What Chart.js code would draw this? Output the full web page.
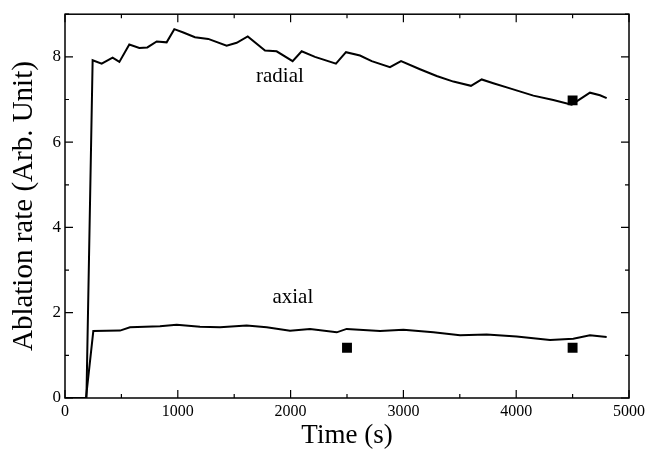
<!DOCTYPE html>
<html>
<head>
<meta charset="utf-8">
<script src="https://cdn.jsdelivr.net/npm/chart.js@4"></script>
<style>
    html, body { margin: 0; padding: 0; background: #fff; }
    #grafico { width: 662px; height: 449px; }
</style>
</head>
<body>
<div id="grafico"><canvas id="canvasAblacao"></canvas></div>
<script>
// dados
var radialTime = [0, 190, 245, 325, 422, 482, 570, 659, 730, 813, 901, 969, 1049, 1152, 1270, 1433, 1522, 1620, 1773, 1876, 2018, 2098, 2216, 2402, 2491, 2615, 2719, 2881, 2979, 3147, 3295, 3443, 3599, 3694, 3797, 3945, 4152, 4329, 4492, 4566, 4654, 4743, 4802];
var radialRate = [0, 0, 7.92, 7.84, 7.98, 7.88, 8.29, 8.21, 8.22, 8.36, 8.34, 8.65, 8.57, 8.46, 8.42, 8.26, 8.33, 8.48, 8.15, 8.13, 7.90, 8.13, 8.00, 7.84, 8.11, 8.03, 7.90, 7.76, 7.90, 7.71, 7.55, 7.42, 7.32, 7.47, 7.38, 7.26, 7.09, 6.99, 6.88, 7.01, 7.16, 7.10, 7.03];

var axialTime = [0, 186, 251, 488, 576, 842, 990, 1197, 1374, 1610, 1788, 1995, 2172, 2409, 2497, 2793, 3000, 3266, 3502, 3738, 4004, 4300, 4506, 4654, 4802];
var axialRate = [0, 0, 1.57, 1.58, 1.66, 1.68, 1.72, 1.67, 1.66, 1.70, 1.66, 1.58, 1.62, 1.54, 1.62, 1.57, 1.60, 1.54, 1.47, 1.49, 1.44, 1.36, 1.39, 1.47, 1.43];

var expTime = [4500, 2500, 4500];
var expRate = [6.98, 1.18, 1.18];

var xTicks = [0, 1000, 2000, 3000, 4000, 5000];
var yTicks = [0, 2, 4, 6, 8];

var fonte = "'Liberation Serif', 'DejaVu Serif', serif";

function pares(xs, ys) {
    var out = [];
    for (var i = 0; i < xs.length; i++) out.push({ x: xs[i], y: ys[i] });
    return out;
}

// moldura e marcas para dentro (como no original)
var pluginMoldura = {
    id: "moldura",
    afterDraw: function (chart) {
        var ctx = chart.ctx;
        var a = chart.chartArea;
        var sx = chart.scales.x, sy = chart.scales.y;
        ctx.save();
        ctx.strokeStyle = "#000";
        ctx.lineWidth = 1.5;
        ctx.strokeRect(a.left, a.top, a.right - a.left, a.bottom - a.top);
        ctx.lineWidth = 1.2;
        ctx.beginPath();
        for (var v = 0; v <= 5000; v += 500) {
            var px = sx.getPixelForValue(v);
            var len = v % 1000 === 0 ? 8 : 4;
            ctx.moveTo(px, a.bottom); ctx.lineTo(px, a.bottom - len);
            ctx.moveTo(px, a.top); ctx.lineTo(px, a.top + len);
        }
        for (var w = 0; w <= 9; w += 1) {
            var py = sy.getPixelForValue(w);
            var l2 = w % 2 === 0 ? 8 : 4;
            ctx.moveTo(a.left, py); ctx.lineTo(a.left + l2, py);
            ctx.moveTo(a.right, py); ctx.lineTo(a.right - l2, py);
        }
        ctx.stroke();

        // rótulos das curvas
        ctx.fillStyle = "#000";
        ctx.font = "21px " + fonte;
        ctx.textAlign = "center";
        ctx.textBaseline = "middle";
        ctx.fillText("radial", sx.getPixelForValue(1905), sy.getPixelForValue(7.55));
        ctx.fillText("axial", sx.getPixelForValue(2020), sy.getPixelForValue(2.35));
        ctx.restore();
    }
};

function plotarAblacao() {
    var ctx = canvasAblacao.getContext("2d");

    new Chart(ctx, {
        type: "scatter",
        data: {
            datasets: [
                {
                    label: "radial",
                    data: pares(radialTime, radialRate),
                    showLine: true,
                    borderColor: "#000",
                    borderWidth: 2,
                    pointRadius: 0,
                    tension: 0
                },
                {
                    label: "axial",
                    data: pares(axialTime, axialRate),
                    showLine: true,
                    borderColor: "#000",
                    borderWidth: 2,
                    pointRadius: 0,
                    tension: 0
                },
                {
                    label: "exp",
                    data: pares(expTime, expRate),
                    showLine: false,
                    pointStyle: "rect",
                    pointRadius: 7,
                    backgroundColor: "#000",
                    borderColor: "#000",
                    borderWidth: 0
                }
            ]
        },
        options: {
            responsive: true,
            maintainAspectRatio: false,
            animation: false,
            layout: { padding: { top: 11, right: 33, left: 0, bottom: 0 } },
            scales: {
                x: {
                    type: "linear",
                    min: 0,
                    max: 5000,
                    afterBuildTicks: function (s) { s.ticks = xTicks.map(function (v) { return { value: v }; }); },
                    afterFit: function (s) { s.height = 51; },
                    grid: { display: false, drawTicks: false },
                    border: { display: false },
                    ticks: {
                        color: "#000",
                        font: { family: fonte, size: 16 },
                        padding: 4,
                        maxRotation: 0,
                        callback: function (v) { return String(v); }
                    },
                    title: { display: true, text: "Time (s)", color: "#000", font: { family: fonte, size: 27, lineHeight: 1.0 }, padding: { top: 0, bottom: 0 } }
                },
                y: {
                    min: 0,
                    max: 9,
                    afterBuildTicks: function (s) { s.ticks = yTicks.map(function (v) { return { value: v }; }); },
                    afterFit: function (s) { s.width = 65; },
                    grid: { display: false, drawTicks: false },
                    border: { display: false },
                    ticks: { color: "#000", font: { family: fonte, size: 17 }, padding: 4 },
                    title: { display: true, text: "Ablation rate (Arb. Unit)", color: "#000", font: { family: fonte, size: 29, lineHeight: 1.0 }, padding: { top: 10, bottom: 0 } }
                }
            },
            plugins: {
                legend: { display: false },
                tooltip: { enabled: false }
            }
        },
        plugins: [pluginMoldura]
    });
}

plotarAblacao();
</script>
</body>
</html>
